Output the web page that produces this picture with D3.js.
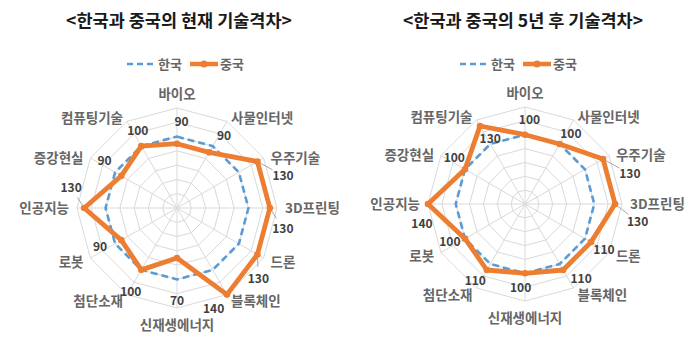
<!DOCTYPE html>
<html>
<head>
<meta charset="utf-8">
<script src="https://cdn.jsdelivr.net/npm/d3@7"></script>
<style>
  body { margin: 0; background: #fff; }
  text { font-family: "Noto Sans CJK KR", "Noto Sans", sans-serif; }
</style>
</head>
<body>
<div id="chart"></div>
<script>
// categories, clockwise from the top
var categories = ["바이오", "사물인터넷", "우주기술", "3D프린팅", "드론", "블록체인",
                  "신재생에너지", "첨단소재", "로봇", "인공지능", "증강현실", "컴퓨팅기술"]

var seriesNames = ["한국", "중국"]
var titles = ["<한국과 중국의 현재 기술격차>", "<한국과 중국의 5년 후 기술격차>"]

// 현재
var koreaNow = [100, 100, 100, 100, 100, 100, 100, 100, 100, 100, 100, 100]
var chinaNow = [90, 90, 130, 130, 130, 140, 70, 100, 90, 130, 90, 100]

// 5년 후
var koreaLater = [100, 100, 100, 100, 100, 100, 100, 100, 100, 100, 100, 100]
var chinaLater = [100, 100, 130, 130, 110, 110, 100, 110, 100, 140, 100, 130]

var ringValues = [20, 40, 60, 80, 100, 120, 140]

var width = 690, height = 347
var blue = "#5B9BD5", orange = "#ED7D31"

var svg = d3.select("#chart")
  .append("svg")
    .attr("width", width)
    .attr("height", height)

// one panel per chart; nudge = [radius px, angle deg] tweaks for value labels,
// leaders = labels that get a thin leader line
var panels = [
  {cx: 177, cy: 208, R: 100, tx: 179, lx: 127, korea: koreaNow, china: chinaNow, title: titles[0],
   nudge: {2: [3, 2], 5: [-8, -1], 6: [6, -3], 7: [9, -4]}, leaders: [2, 3, 4, 9]},
  {cx: 525, cy: 204, R: 97, tx: 523, lx: 460, korea: koreaLater, china: chinaLater, title: titles[1],
   nudge: {2: [4, 3], 9: [-7, -22], 11: [-31, -9], 5: [2, -10], 3: [9, -2], 4: [0, -3]}, leaders: [2, 3]}
]

var step = 2 * Math.PI / categories.length

panels.forEach(function(p) {

  var r = d3.scaleLinear().domain([0, 140]).range([0, p.R])

  var g = svg.append("g")
    .attr("transform", "translate(" + p.cx + "," + p.cy + ")")

  // polar -> xy, angle 0 at the top
  function px(a, rad) { return rad * Math.sin(a) }
  function py(a, rad) { return -rad * Math.cos(a) }

  // title
  svg.append("text")
    .attr("x", p.tx)
    .attr("y", 27)
    .attr("text-anchor", "middle")
    .style("font-size", "17.5px")
    .style("font-weight", "bold")
    .style("fill", "#1a1a1a")
    .text(p.title)

  // legend
  var leg = svg.append("g").attr("transform", "translate(" + p.lx + "," + 64 + ")")
  leg.append("line")
    .attr("x1", 0).attr("x2", 28).attr("y1", 0).attr("y2", 0)
    .attr("stroke", blue).attr("stroke-width", 2.5).attr("stroke-dasharray", "6,4")
  leg.append("text")
    .attr("x", 31).attr("y", 5)
    .style("font-size", "13px").style("font-weight", "bold").style("fill", "#666")
    .text(seriesNames[0])
  leg.append("line")
    .attr("x1", 63).attr("x2", 91).attr("y1", 0).attr("y2", 0)
    .attr("stroke", orange).attr("stroke-width", 4.5)
  leg.append("circle")
    .attr("cx", 77).attr("cy", 0).attr("r", 3.5).attr("fill", orange)
  leg.append("text")
    .attr("x", 93).attr("y", 5)
    .style("font-size", "13px").style("font-weight", "bold").style("fill", "#666")
    .text(seriesNames[1])

  // grid rings
  var ring = d3.lineRadial()
    .angle(function(d, i) { return i * step })
    .radius(function(d) { return r(d) })
    .curve(d3.curveLinearClosed)

  ringValues.forEach(function(v) {
    g.append("path")
      .attr("d", ring(categories.map(function() { return v })))
      .attr("fill", "none")
      .attr("stroke", "#d9d9d9")
      .attr("stroke-width", 1)
  })

  // spokes
  g.selectAll(".spoke")
    .data(categories)
    .enter()
    .append("line")
      .attr("class", "spoke")
      .attr("x1", 0).attr("y1", 0)
      .attr("x2", function(d, i) { return px(i * step, r(140)) })
      .attr("y2", function(d, i) { return py(i * step, r(140)) })
      .attr("stroke", "#d9d9d9")
      .attr("stroke-width", 1)

  // category labels
  g.selectAll(".cat")
    .data(categories)
    .enter()
    .append("text")
      .attr("class", "cat")
      .attr("x", function(d, i) { return px(i * step, p.R + 8) })
      .attr("y", function(d, i) {
        var a = i * step, y = py(a, p.R + 8)
        if (Math.abs(Math.sin(a)) < 0.1) y += Math.cos(a) > 0 ? -6 : 9
        else if (Math.cos(a) > 0.1) y += 4
        return y
      })
      .attr("dy", "0.35em")
      .attr("text-anchor", function(d, i) {
        var s = Math.sin(i * step)
        return s > 0.1 ? "start" : (s < -0.1 ? "end" : "middle")
      })
      .style("font-size", "13.5px")
      .style("font-weight", "bold")
      .style("fill", "#666")
      .text(function(d) { return d })

  // value label positions (China)
  var labelPos = p.china.map(function(d, i) {
    var n = p.nudge[i] || [0, 0]
    var rad = Math.max(r(d), r(100)) + 15 + n[0]
    var a = i * step + ((d >= 130 ? 11 : 3) + n[1]) * Math.PI / 180
    return [px(a, rad), py(a, rad)]
  })

  // leader lines
  p.leaders.forEach(function(i) {
    var a = i * step, x0 = px(a, r(p.china[i])), y0 = py(a, r(p.china[i]))
    var x1 = labelPos[i][0], y1 = labelPos[i][1]
    var len = Math.hypot(x1 - x0, y1 - y0), k = (len - 12) / len
    g.append("line")
      .attr("x1", x0).attr("y1", y0)
      .attr("x2", x0 + (x1 - x0) * k).attr("y2", y0 + (y1 - y0) * k)
      .attr("stroke", "#a6a6a6")
      .attr("stroke-width", 1)
  })

  // Korea (dashed)
  g.append("path")
    .attr("d", ring(p.korea))
    .attr("fill", "none")
    .attr("stroke", blue)
    .attr("stroke-width", 2.6)
    .attr("stroke-dasharray", "7,4")

  // China
  g.append("path")
    .attr("d", ring(p.china))
    .attr("fill", "none")
    .attr("stroke", orange)
    .attr("stroke-width", 4.8)
    .attr("stroke-linejoin", "round")

  g.selectAll(".pt")
    .data(p.china)
    .enter()
    .append("circle")
      .attr("class", "pt")
      .attr("cx", function(d, i) { return px(i * step, r(d)) })
      .attr("cy", function(d, i) { return py(i * step, r(d)) })
      .attr("r", 3.3)
      .attr("fill", orange)

  g.selectAll(".val")
    .data(p.china)
    .enter()
    .append("text")
      .attr("class", "val")
      .attr("x", function(d, i) { return labelPos[i][0] })
      .attr("y", function(d, i) { return labelPos[i][1] })
      .attr("dy", "0.35em")
      .attr("text-anchor", "middle")
      .style("font-size", "12px")
      .style("font-weight", "bold")
      .style("fill", "#404040")
      .text(function(d) { return d })
})
</script>
</body>
</html>
